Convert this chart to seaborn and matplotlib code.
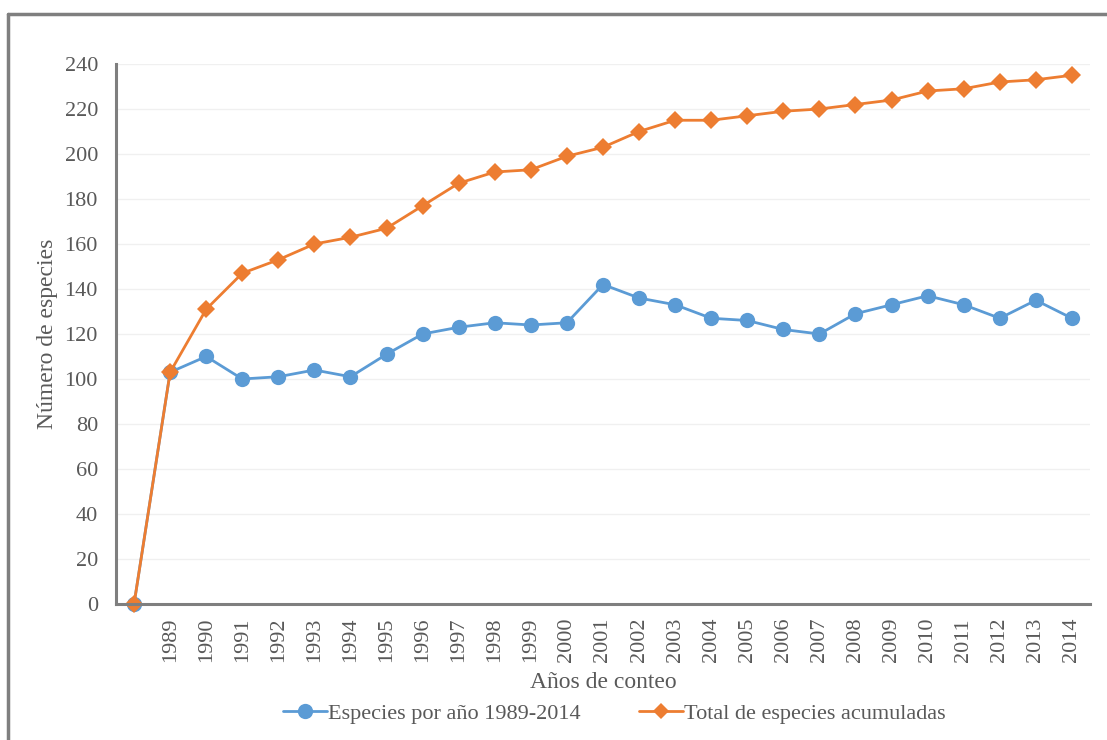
import pandas as pd
import seaborn as sns
import matplotlib.pyplot as plt
from matplotlib.lines import Line2D

years = ["", "1989", "1990", "1991", "1992", "1993", "1994", "1995", "1996",
         "1997", "1998", "1999", "2000", "2001", "2002", "2003", "2004",
         "2005", "2006", "2007", "2008", "2009", "2010", "2011", "2012",
         "2013", "2014"]
por_anio = [0, 103, 110, 100, 101, 104, 101, 111, 120, 123, 125, 124, 125,
            142, 136, 133, 127, 126, 122, 120, 129, 133, 137, 133, 127, 135, 127]
acumuladas = [0, 103, 131, 147, 153, 160, 163, 167, 177, 187, 192, 193, 199,
              203, 210, 215, 215, 217, 219, 220, 222, 224, 228, 229, 232, 233, 235]

serie1 = "Especies por año 1989-2014"
serie2 = "Total de especies acumuladas"

df = pd.DataFrame({
    "Año": years * 2,
    "Especies": por_anio + acumuladas,
    "Serie": [serie1] * len(years) + [serie2] * len(years),
})

sns.set_style("white")
plt.rcParams["font.family"] = ["Liberation Serif", "DejaVu Serif"]
gray = "#595959"
azul, naranja = "#5b9bd5", "#ed7d31"

fig = plt.figure(figsize=(11.07, 7.4), dpi=100)
ax = fig.add_axes([0.1048, 0.1838, 0.8798, 0.7297])

sns.lineplot(
    data=df, x="Año", y="Especies", hue="Serie", style="Serie",
    palette={serie1: azul, serie2: naranja},
    markers={serie1: "o", serie2: "D"},
    dashes=False, sort=False, linewidth=2, markersize=11,
    markeredgewidth=0, ax=ax, legend=False, clip_on=False
)
# diamantes un poco más pequeños que los círculos
for ln in ax.get_lines():
    if ln.get_marker() == "D":
        ln.set_markersize(9.5)

ax.set_ylim(0, 240)
ax.set_yticks(range(0, 241, 20))
ax.set_xlim(-0.5, len(years) - 0.5)
ax.grid(axis="y", color="#f0f0f0", linewidth=1)
ax.set_axisbelow(True)
for s in ["top", "right"]:
    ax.spines[s].set_visible(False)
for s in ["left", "bottom"]:
    ax.spines[s].set_color("#7f7f7f")
    ax.spines[s].set_linewidth(2.2)

ax.tick_params(axis="x", labelrotation=90, labelsize=16, colors=gray, length=0, pad=10)
ax.tick_params(axis="y", labelsize=16, colors=gray, length=0, pad=13)
ax.set_xlabel("Años de conteo", fontsize=17, color=gray, labelpad=7)
ax.set_ylabel("Número de especies", fontsize=17, color=gray, labelpad=5)

handles = [
    Line2D([], [], color=azul, marker="o", markersize=11, linewidth=2, markeredgewidth=0),
    Line2D([], [], color=naranja, marker="D", markersize=8, linewidth=2, markeredgewidth=0),
]
fig.legend(handles, [serie1, serie2], loc="center", bbox_to_anchor=(0.555, 0.036),
           ncol=2, frameon=False, fontsize=16, labelcolor=gray,
           handlelength=2.0, handletextpad=0.05, columnspacing=2.6)

# marco gris del recuadro original (solo izquierda y arriba visibles)
fig.add_artist(Line2D([8 / 1107, 8 / 1107], [-0.05, 1 - 14 / 740],
                      transform=fig.transFigure, color="#7f7f7f", linewidth=2.5))
fig.add_artist(Line2D([8 / 1107, 1.05], [1 - 14 / 740, 1 - 14 / 740],
                      transform=fig.transFigure, color="#7f7f7f", linewidth=2.5))

fig.savefig("out.png", dpi=100)
